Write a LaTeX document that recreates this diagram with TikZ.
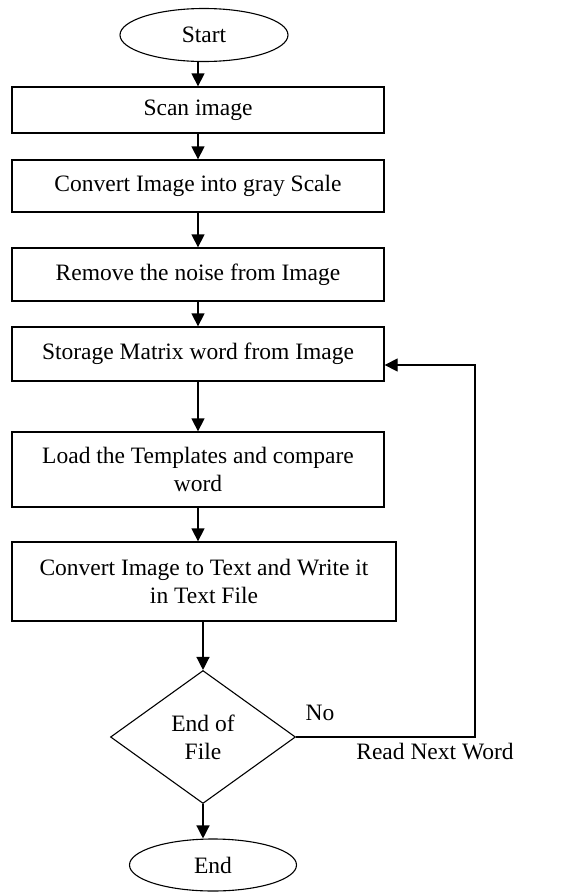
\documentclass[tikz,border=0pt]{standalone}
\usepackage{fontspec}
\setmainfont{Liberation Serif}
\usetikzlibrary{shapes.geometric,arrows.meta,calc}
\begin{document}
\begin{tikzpicture}[x=1pt,y=-1pt,
  every node/.style={font=\fontsize{23.5}{28}\selectfont},
  proc/.style={draw,line width=1.3pt,rectangle,minimum width=372pt,inner sep=0pt,align=center},
  term/.style={draw,line width=1.1pt,ellipse,inner sep=0pt},
  dec/.style={draw,line width=1.1pt,diamond,inner sep=0pt,align=center},
  arr/.style={line width=1.3pt,-{Triangle[width=13pt,length=13pt]}},
  lnk/.style={line width=1.3pt}]
\useasboundingbox (0,0) rectangle (561,892);
\node[term,minimum width=168pt,minimum height=53pt] (start) at (204,35) {Start};
\node[proc,minimum height=46pt] (scan) at (198,110) {Scan image};
\node[proc,minimum height=52pt] (conv) at (198,186) {Convert Image into gray Scale};
\node[proc,minimum height=53pt] (rem) at (198,274.5) {Remove the noise from Image};
\node[proc,minimum height=54pt] (stor) at (198,354) {Storage Matrix word from Image};
\node[proc,minimum height=75pt] (load) at (198,469.5) {Load the Templates and compare\\word};
\node[proc,minimum width=384pt,minimum height=79pt] (c2t) at (204,581.5) {Convert Image to Text and Write it\\in Text File};
\node[dec,minimum width=185pt,minimum height=133pt,aspect=1.39] (eof) at (203,737) {End of\\File};
\node[term,minimum width=167pt,minimum height=52pt] (end) at (213,865) {End};
\node (no) at (320,713) {No};
\node (rnw) at (435,752) {Read Next Word};
\coordinate (loopc) at (475,365);
\draw[arr] (scan.north |- start.south) -- (scan.north);
\draw[arr] (scan.south) -- (conv.north);
\draw[arr] (conv.south) -- (rem.north);
\draw[arr] (rem.south) -- (stor.north);
\draw[arr] (stor.south) -- (load.north);
\draw[arr] (load.south) -- (load.south |- c2t.north);
\draw[arr] (eof.north |- c2t.south) -- (eof.north);
\draw[arr] (eof.south) -- (eof.south |- end.north);
\draw[arr] (eof.east) -- (eof.east -| loopc) -- (loopc) -- (stor.east |- loopc);
\end{tikzpicture}
\end{document}
